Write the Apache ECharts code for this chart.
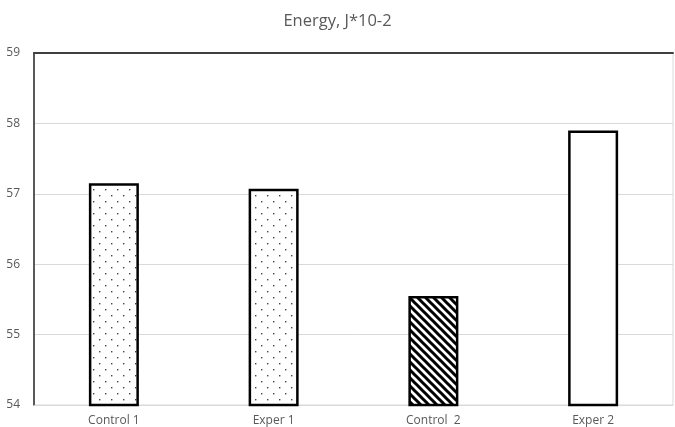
<!DOCTYPE html>
<html>
<head>
<meta charset="utf-8">
<script src="https://cdn.jsdelivr.net/npm/echarts@6/dist/echarts.min.js"></script>
<style>
html,body{margin:0;padding:0;background:#fff;}
#c{width:675px;height:427px;}
</style>
</head>
<body>
<div id="c"></div>
<script>
var categories = ['Control 1', 'Exper 1', 'Control  2', 'Exper 2'];
var values = [57.15, 57.07, 55.55, 57.9];
var patterns = ['dots', 'dots', 'stripes', 'none'];
var titleText = 'Energy, J*10-2';

function makeDots() {
  var c = document.createElement('canvas');
  c.width = 12; c.height = 12;
  var g = c.getContext('2d');
  g.fillStyle = '#ffffff'; g.fillRect(0, 0, 12, 12);
  g.fillStyle = '#444444';
  g.fillRect(3, 3, 1.4, 1.4);
  g.fillRect(9, 9, 1.4, 1.4);
  return c;
}
function makeStripes() {
  var s = 8;
  var c = document.createElement('canvas');
  c.width = s; c.height = s;
  var g = c.getContext('2d');
  g.fillStyle = '#ffffff'; g.fillRect(0, 0, s, s);
  g.strokeStyle = '#000000'; g.lineWidth = 3;
  g.beginPath();
  g.moveTo(-s, 0); g.lineTo(s, 2 * s);
  g.moveTo(0, 0); g.lineTo(2 * s, 2 * s);
  g.moveTo(0, -s); g.lineTo(2 * s, s);
  g.stroke();
  return c;
}
var dotImg = makeDots();
var stripeImg = makeStripes();
function fillFor(p) {
  if (p === 'dots') return { image: dotImg, repeat: 'repeat' };
  if (p === 'stripes') return { image: stripeImg, repeat: 'repeat' };
  return '#ffffff';
}

var chart = echarts.init(document.getElementById('c'), null, { renderer: 'canvas' });
var font = '"Open Sans", "Noto Sans", sans-serif';
chart.setOption({
  animation: false,
  backgroundColor: '#ffffff',
  title: {
    text: titleText, left: 'center', top: 8,
    textStyle: { fontFamily: font, fontSize: 16.5, fontWeight: 'normal', color: '#595959' }
  },
  grid: { left: 34, right: 2, top: 53, bottom: 21, show: true, borderColor: '#d9d9d9', borderWidth: 1 },
  xAxis: [{
    type: 'category', data: categories,
    axisLine: { show: true, lineStyle: { color: '#d9d9d9', width: 1 } },
    axisTick: { show: false },
    axisLabel: { fontFamily: font, fontSize: 12, color: '#595959', margin: 10 }
  }, {
    type: 'category', data: categories, position: 'top',
    axisLine: { show: true, lineStyle: { color: '#404040', width: 2 } },
    axisTick: { show: false }, axisLabel: { show: false }
  }],
  yAxis: {
    type: 'value', min: 54, max: 59, interval: 1,
    axisLine: { show: true, lineStyle: { color: '#595959', width: 2 } },
    axisTick: { show: false },
    splitLine: { lineStyle: { color: '#d9d9d9', width: 1 } },
    axisLabel: { fontFamily: font, fontSize: 12, color: '#595959', margin: 14 }
  },
  series: [{
    type: 'bar', barWidth: 50,
    data: values.map(function (v, i) {
      return { value: v, itemStyle: { color: fillFor(patterns[i]), borderColor: '#000000', borderWidth: 2.5 } };
    })
  }]
});
</script>
</body>
</html>
